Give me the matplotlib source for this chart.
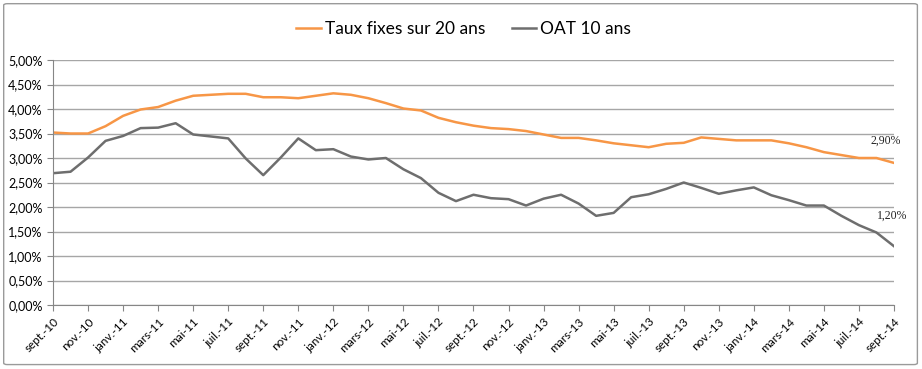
import matplotlib.pyplot as plt
from matplotlib.patches import FancyBboxPatch
from matplotlib.ticker import FuncFormatter, MultipleLocator

# monthly, sept.-10 .. sept.-14
months = ["sept.-10", "oct.-10", "nov.-10", "déc.-10",
          "janv.-11", "févr.-11", "mars-11", "avr.-11", "mai-11", "juin-11",
          "juil.-11", "août-11", "sept.-11", "oct.-11", "nov.-11", "déc.-11",
          "janv.-12", "févr.-12", "mars-12", "avr.-12", "mai-12", "juin-12",
          "juil.-12", "août-12", "sept.-12", "oct.-12", "nov.-12", "déc.-12",
          "janv.-13", "févr.-13", "mars-13", "avr.-13", "mai-13", "juin-13",
          "juil.-13", "août-13", "sept.-13", "oct.-13", "nov.-13", "déc.-13",
          "janv.-14", "févr.-14", "mars-14", "avr.-14", "mai-14", "juin-14",
          "juil.-14", "août-14", "sept.-14"]

taux_20 = [3.52, 3.50, 3.50, 3.65, 3.86, 3.99, 4.04, 4.17, 4.27, 4.29,
           4.31, 4.31, 4.24, 4.24, 4.22, 4.27, 4.32, 4.29, 4.22, 4.12,
           4.01, 3.97, 3.82, 3.73, 3.66, 3.61, 3.59, 3.55, 3.48, 3.41,
           3.41, 3.36, 3.30, 3.26, 3.22, 3.29, 3.31, 3.42, 3.39, 3.36,
           3.36, 3.36, 3.30, 3.22, 3.12, 3.06, 3.00, 3.00, 2.90]

oat_10 = [2.69, 2.72, 3.01, 3.35, 3.45, 3.61, 3.62, 3.71, 3.48, 3.44,
          3.40, 2.99, 2.65, 3.01, 3.40, 3.16, 3.18, 3.03, 2.97, 3.00,
          2.77, 2.59, 2.29, 2.12, 2.25, 2.18, 2.16, 2.03, 2.17, 2.25,
          2.07, 1.82, 1.88, 2.20, 2.26, 2.37, 2.50, 2.39, 2.27, 2.34,
          2.40, 2.24, 2.14, 2.03, 2.03, 1.82, 1.63, 1.48, 1.20]

orange = "#F79646"
grey = "#6E6E6E"

plt.rcParams['font.family'] = ['Lato', 'DejaVu Sans']

fig = plt.figure(figsize=(9.22, 3.69), dpi=100)
ax = fig.add_axes([0.0575, 0.1734, 0.9121, 0.664])

# frame around the whole chart
fig.patches.append(FancyBboxPatch((0.004, 0.012), 0.991, 0.978,
                                  boxstyle="round,pad=0,rounding_size=0.004",
                                  transform=fig.transFigure, fill=False,
                                  edgecolor="#9a9a9a", linewidth=1.0))

x = list(range(len(months)))
ax.plot(x, taux_20, color=orange, lw=1.8, label="Taux fixes sur 20 ans")
ax.plot(x, oat_10, color=grey, lw=1.8, label="OAT 10 ans")

ax.set_xlim(0, len(months) - 1)
ax.set_ylim(0, 5)
ax.yaxis.set_major_locator(MultipleLocator(0.5))
ax.yaxis.set_major_formatter(FuncFormatter(lambda v, p: f"{v:.2f}%".replace(".", ",")))
ax.grid(axis="y", color="#a6a6a6", lw=1.0)
ax.set_axisbelow(True)

ax.set_xticks(x[::2])
ax.set_xticklabels(months[::2], rotation=45, ha="right", rotation_mode="anchor",
                   fontsize=8.5)
ax.tick_params(axis="x", length=4, color="#868686", pad=4)
ax.tick_params(axis="y", length=4, color="#868686", labelsize=9)

for s in ["top", "right"]:
    ax.spines[s].set_visible(False)
for s in ["left", "bottom"]:
    ax.spines[s].set_color("#868686")

ax.annotate("2,90%", (x[-1], taux_20[-1]), xytext=(-6, 14), textcoords="offset points",
            ha="center", fontsize=8.5, family="Liberation Serif", color="#222222")
ax.annotate("1,20%", (x[-1], oat_10[-1]), xytext=(-1, 20), textcoords="offset points",
            ha="center", fontsize=8.5, family="Liberation Serif", color="#222222")

fig.legend(loc="upper center", bbox_to_anchor=(0.503, 0.985), ncol=2, frameon=False,
           fontsize=12.5, handlelength=1.4, handletextpad=0.25, columnspacing=1.5)

fig.savefig("out.png", dpi=100)
